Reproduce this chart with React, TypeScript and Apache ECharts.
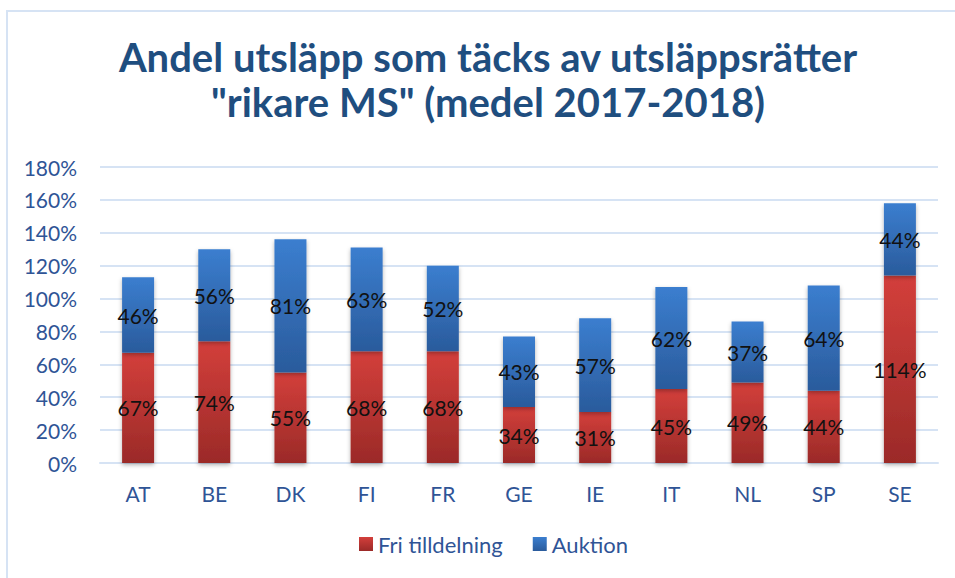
import React, { useEffect, useRef } from "react";
import * as echarts from "echarts";

const categories = ["AT", "BE", "DK", "FI", "FR", "GE", "IE", "IT", "NL", "SP", "SE"];
const friTilldelning = [67, 74, 55, 68, 68, 34, 31, 45, 49, 44, 114];
const auktion = [46, 56, 81, 63, 52, 43, 57, 62, 37, 64, 44];
const yTicks = { min: 0, max: 180, interval: 20 };
const titleLines = ["Andel utsläpp som täcks av utsläppsrätter", "\"rikare MS\" (medel 2017-2018)"];

const FONT = "Lato, 'Open Sans', sans-serif";
const AXIS_COLOR = "#2F5496";

export default function App() {
  const ref = useRef<HTMLDivElement>(null);
  useEffect(() => {
    if (!ref.current) return;
    const chart = echarts.init(ref.current, null, { renderer: "svg" });
    const mk = (a: string, b: string) =>
      new echarts.graphic.LinearGradient(0, 0, 0, 1, [
        { offset: 0, color: a },
        { offset: 1, color: b },
      ]);
    const label = {
      show: true,
      position: "inside" as const,
      formatter: "{c}%",
      color: "#111",
      fontSize: 21,
      fontFamily: FONT,
    };
    chart.setOption({
      animation: false,
      backgroundColor: "#fff",
      textStyle: { fontFamily: FONT },
      title: {
        text: titleLines.join("\n"),
        left: 483,
        top: 29,
        textAlign: "center",
        textStyle: {
          fontFamily: FONT,
          fontWeight: "bold",
          fontSize: 40,
          lineHeight: 45,
          color: "#1F4E7F",
        },
      },
      graphic: [
        {
          type: "rect",
          shape: { x: 7, y: 11, width: 1000, height: 700 },
          style: { fill: "none", stroke: "#D6E3F4", lineWidth: 2 },
          silent: true,
        },
      ],
      legend: {
        bottom: 18,
        left: 354,
        itemWidth: 14,
        itemHeight: 14,
        itemGap: 30,
        icon: "rect",
        textStyle: { fontSize: 22, color: AXIS_COLOR, fontFamily: FONT },
        data: [
          { name: "Fri tilldelning", itemStyle: { color: mk("#D33F3B", "#9B2A28") } },
          { name: "Auktion", itemStyle: { color: mk("#3B7ECF", "#2A5B9C") } },
        ],
      },
      grid: { left: 100, right: 17, top: 167, bottom: 115 },
      xAxis: {
        type: "category",
        data: categories,
        axisLine: { lineStyle: { color: "#D6E3F4", width: 2 } },
        axisTick: { show: false },
        axisLabel: { color: AXIS_COLOR, fontSize: 21, margin: 20, fontFamily: FONT },
      },
      yAxis: {
        type: "value",
        min: yTicks.min,
        max: yTicks.max,
        interval: yTicks.interval,
        axisLabel: { formatter: "{value}%", color: AXIS_COLOR, fontSize: 21, margin: 23, fontFamily: FONT },
        splitLine: { lineStyle: { color: "#D6E3F4", width: 2 } },
        axisLine: { show: false },
        axisTick: { show: false },
      },
      series: [
        {
          name: "Fri tilldelning",
          type: "bar",
          stack: "total",
          barWidth: 32,
          data: friTilldelning,
          itemStyle: { color: mk("#D33F3B", "#9B2A28"), shadowBlur: 4, shadowColor: "rgba(0,0,0,0.3)", shadowOffsetY: 2 },
          label,
        },
        {
          name: "Auktion",
          type: "bar",
          stack: "total",
          barWidth: 32,
          data: auktion,
          itemStyle: { color: mk("#3B7ECF", "#2A5B9C"), shadowBlur: 4, shadowColor: "rgba(0,0,0,0.3)", shadowOffsetY: 2 },
          label,
        },
      ],
    });
    return () => chart.dispose();
  }, []);
  return (
    <div
      ref={ref}
      style={{ position: "fixed", left: 0, top: 0, width: 955, height: 578 }}
    />
  );
}
